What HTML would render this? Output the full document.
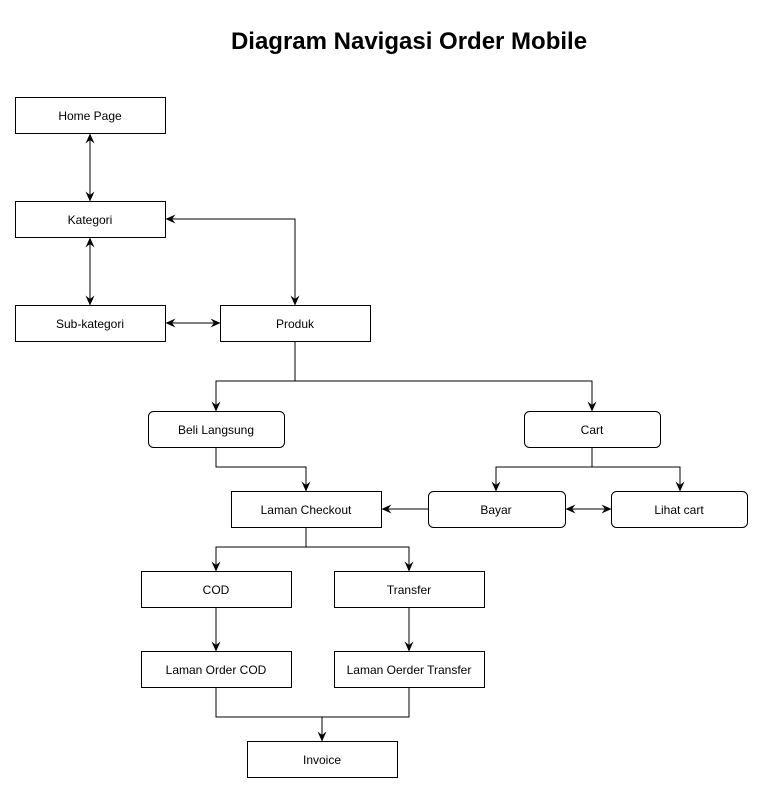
<!DOCTYPE html>
<html><head><meta charset="utf-8"><style>
html,body{margin:0;padding:0;background:#fff;}
svg{display:block;}
text{font-family:"Liberation Sans",Arial,sans-serif;}
</style></head><body>
<svg width="762" height="792" viewBox="0 0 762 792" xmlns="http://www.w3.org/2000/svg">
<defs>
<marker id="a" viewBox="0 0 10 10" refX="9.5" refY="5" markerWidth="10" markerHeight="10" orient="auto-start-reverse" markerUnits="userSpaceOnUse">
<path d="M0,0.5 L10,5 L0,9.5 L3.5,5 Z" fill="#000"/>
</marker>
</defs>
<text x="409" y="49" text-anchor="middle" font-size="24" font-weight="bold">Diagram Navigasi Order Mobile</text>
<g fill="none" stroke="#000" stroke-width="1">
<path d="M90,134 V201" marker-start="url(#a)" marker-end="url(#a)"/>
<path d="M90,238 V305" marker-start="url(#a)" marker-end="url(#a)"/>
<path d="M166,219 H295 V305" marker-start="url(#a)" marker-end="url(#a)"/>
<path d="M166,323 H220" marker-start="url(#a)" marker-end="url(#a)"/>
<path d="M295,341 V381 H216 V411" marker-end="url(#a)"/>
<path d="M295,381 H592 V411" marker-end="url(#a)"/>
<path d="M216,447 V467 H306 V491" marker-end="url(#a)"/>
<path d="M592,447 V467 H496 V491" marker-end="url(#a)"/>
<path d="M592,467 H680 V491" marker-end="url(#a)"/>
<path d="M428,509 H382" marker-end="url(#a)"/>
<path d="M566,509 H611" marker-start="url(#a)" marker-end="url(#a)"/>
<path d="M306,527 V547 H216 V571" marker-end="url(#a)"/>
<path d="M306,547 H409 V571" marker-end="url(#a)"/>
<path d="M216,607 V651" marker-end="url(#a)"/>
<path d="M409,607 V651" marker-end="url(#a)"/>
<path d="M216,687 V717 H409 V687"/>
<path d="M322,717 V741" marker-end="url(#a)"/>
<rect x="15.5" y="97.5" width="150" height="36"/>
<rect x="15.5" y="201.5" width="150" height="36"/>
<rect x="15.5" y="305.5" width="150" height="36"/>
<rect x="220.5" y="305.5" width="150" height="36"/>
<rect x="148.5" y="411.5" width="136" height="36" rx="5"/>
<rect x="524.5" y="411.5" width="136" height="36" rx="5"/>
<rect x="231.5" y="491.5" width="150" height="36"/>
<rect x="428.5" y="491.5" width="137" height="36" rx="5"/>
<rect x="611.5" y="491.5" width="136" height="36" rx="5"/>
<rect x="141.5" y="571.5" width="150" height="36"/>
<rect x="334.5" y="571.5" width="150" height="36"/>
<rect x="141.5" y="651.5" width="150" height="36"/>
<rect x="334.5" y="651.5" width="150" height="36"/>
<rect x="247.5" y="741.5" width="150" height="36"/>
</g>
<g font-size="12" text-anchor="middle" fill="#000">
<text x="90" y="120">Home Page</text>
<text x="90" y="224">Kategori</text>
<text x="90" y="328">Sub-kategori</text>
<text x="295" y="328">Produk</text>
<text x="216" y="434">Beli Langsung</text>
<text x="592" y="434">Cart</text>
<text x="306" y="514">Laman Checkout</text>
<text x="496" y="514">Bayar</text>
<text x="679" y="514">Lihat cart</text>
<text x="216" y="594">COD</text>
<text x="409" y="594">Transfer</text>
<text x="216" y="674">Laman Order COD</text>
<text x="409" y="674">Laman Oerder Transfer</text>
<text x="322" y="764">Invoice</text>
</g>
</svg>
</body></html>
